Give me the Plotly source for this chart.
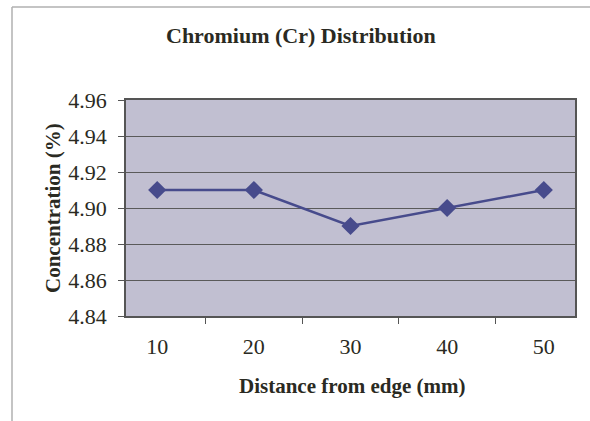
import plotly.graph_objects as go

# Chromium concentration measured at increasing distances from the edge
distance_mm = ["10", "20", "30", "40", "50"]
concentration = [4.91, 4.91, 4.89, 4.90, 4.91]
y_ticks = [4.84, 4.86, 4.88, 4.90, 4.92, 4.94, 4.96]

SERIF = "Liberation Serif, Times New Roman, serif"
TEXT = "#2a2a22"

# plot-area box in pixels, used to place the free-floating text and frame
L, R, T, B = 126, 575, 100, 316
W, H = R - L, B - T


def px(x):
    return (x - L) / W


def py(y):
    return (B - y) / H


fig = go.Figure()
fig.add_trace(go.Scatter(
    x=distance_mm,
    y=concentration,
    mode="lines+markers",
    line=dict(color="#474b8c", width=2.5),
    marker=dict(symbol="diamond", size=14, color="#474b8c"),
    showlegend=False,
))

fig.update_layout(
    width=590,
    height=421,
    margin=dict(l=L, r=590 - R, t=T, b=421 - B),
    paper_bgcolor="white",
    plot_bgcolor="#c1bfd1",
    font=dict(family=SERIF, size=22, color=TEXT),
    xaxis=dict(
        type="category",
        tickson="boundaries",
        ticks="outside",
        ticklen=6,
        tickcolor="#555555",
        showgrid=False,
        showline=True,
        linecolor="#555555",
        linewidth=1.5,
        mirror=True,
        tickfont=dict(family=SERIF, size=22, color=TEXT),
        ticklabelstandoff=10,
    ),
    yaxis=dict(
        range=[4.84, 4.96],
        tickvals=y_ticks,
        ticktext=[f"{v:.2f}" for v in y_ticks],
        ticks="outside",
        ticklen=6,
        tickcolor="#555555",
        showgrid=True,
        gridcolor="#5a5a5a",
        gridwidth=1.2,
        showline=True,
        linecolor="#555555",
        linewidth=1.5,
        mirror=True,
        zeroline=False,
        tickfont=dict(family=SERIF, size=22, color=TEXT),
        ticklabelstandoff=7,
    ),
    annotations=[
        dict(text="<b>Chromium (Cr) Distribution</b>", xref="paper", yref="paper",
             x=px(301), y=py(35), xanchor="center", yanchor="middle",
             showarrow=False, font=dict(family=SERIF, size=22, color=TEXT)),
        dict(text="<b>Distance from edge (mm)</b>", xref="paper", yref="paper",
             x=px(352), y=py(386), xanchor="center", yanchor="middle",
             showarrow=False, font=dict(family=SERIF, size=21, color=TEXT)),
        dict(text="<b>Concentration (%)</b>", xref="paper", yref="paper",
             x=px(53), y=py(208), xanchor="center", yanchor="middle",
             textangle=-90, showarrow=False, font=dict(family=SERIF, size=21, color=TEXT)),
    ],
    shapes=[
        # chart-area frame (top and left edges)
        dict(type="line", xref="paper", yref="paper",
             x0=px(12), x1=px(590), y0=py(7), y1=py(7),
             line=dict(color="#b0b0b0", width=1.5)),
        dict(type="line", xref="paper", yref="paper",
             x0=px(12), x1=px(12), y0=py(7), y1=py(421),
             line=dict(color="#b0b0b0", width=1.5)),
    ],
)

fig.write_html("out.html")
